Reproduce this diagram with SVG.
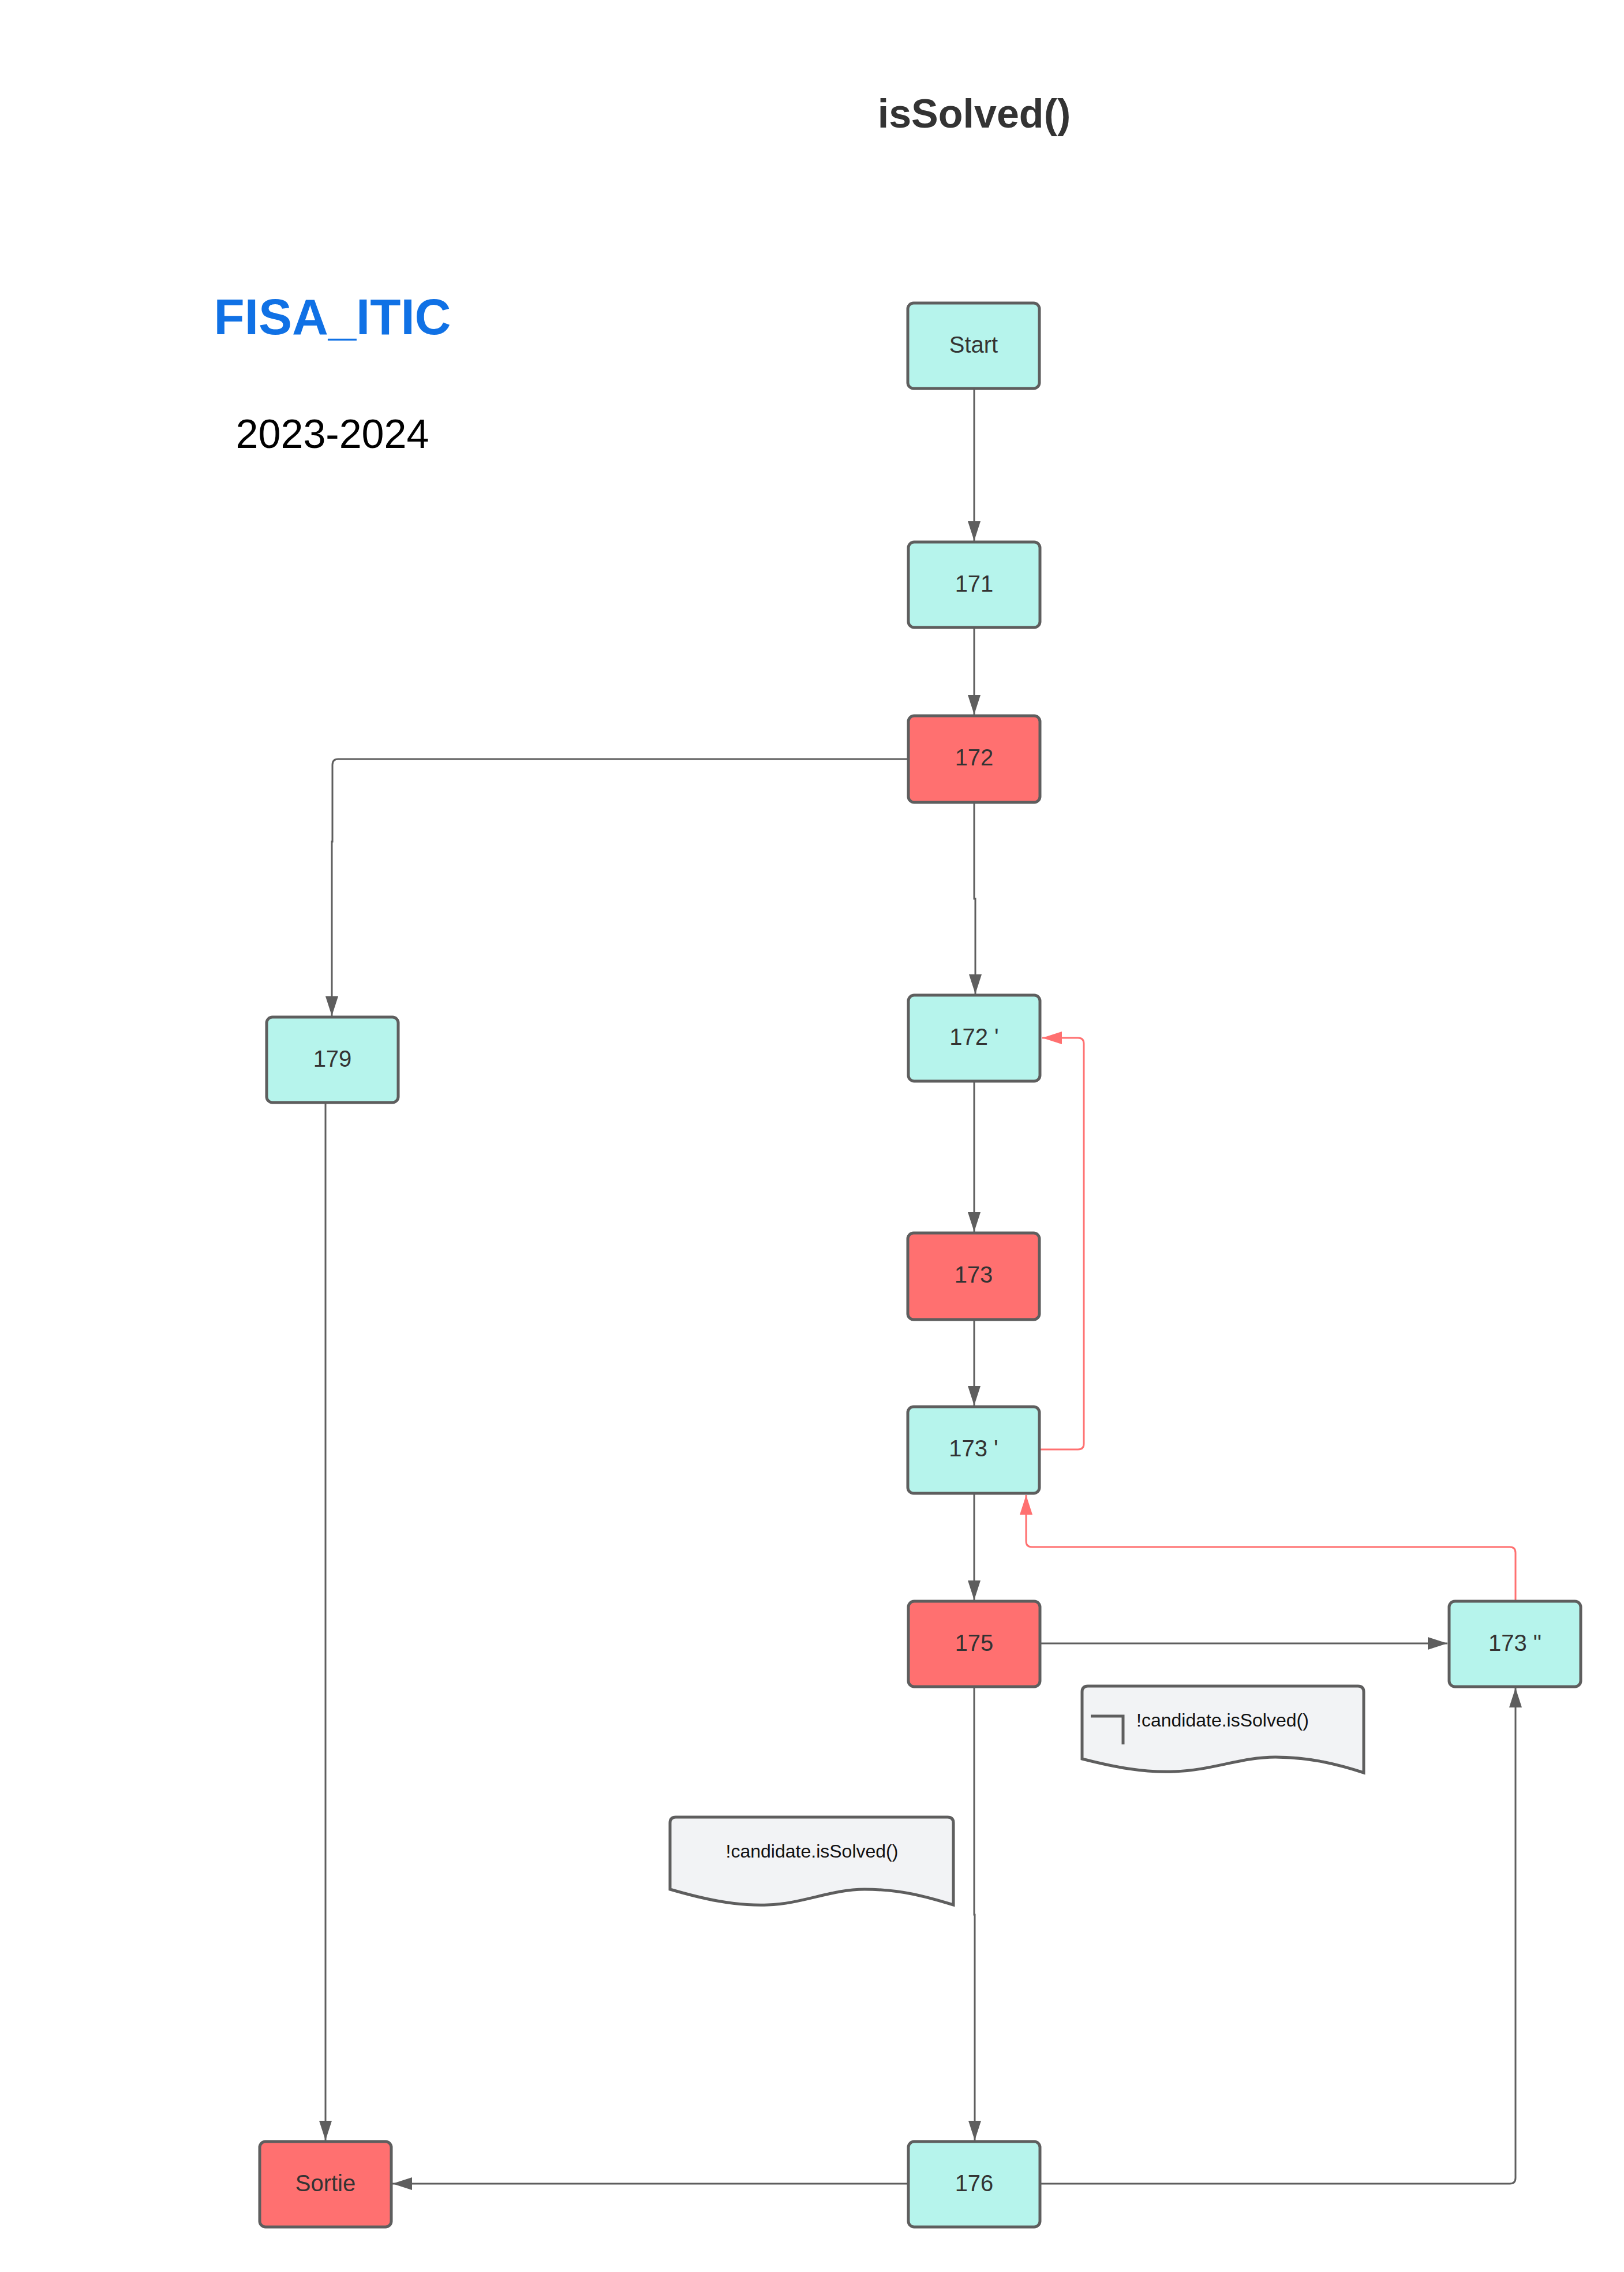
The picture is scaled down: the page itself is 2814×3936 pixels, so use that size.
<svg xmlns="http://www.w3.org/2000/svg" width="2814" height="3936" viewBox="0 0 2814 3936">
<style>
.node rect{stroke:#5e5e5e;stroke-width:5}
.cy{fill:#b6f4ec}
.rd{fill:#ff7070}
.lbl{font-family:"Liberation Sans",Arial,sans-serif;font-size:40px;fill:#333;text-anchor:middle}
.conn path{fill:none;stroke:#5e5e5e;stroke-width:3}
.conn path.red{stroke:#ff7070}
.doc path.shape{fill:#f2f3f5;stroke:#5e5e5e;stroke-width:5}
.doctxt{font-family:"Liberation Sans",Arial,sans-serif;font-size:32px;fill:#111}
</style>
<defs>
<marker id="ag" markerWidth="34" markerHeight="22" refX="34" refY="11" orient="auto" markerUnits="userSpaceOnUse"><path d="M0,0 L34,11 L0,22 z" fill="#5e5e5e"/></marker>
<marker id="ar" markerWidth="34" markerHeight="22" refX="34" refY="11" orient="auto" markerUnits="userSpaceOnUse"><path d="M0,0 L34,11 L0,22 z" fill="#ff7070"/></marker>
</defs>
<rect x="0" y="0" width="2814" height="3936" fill="#ffffff"/>

<text x="1688" y="221" font-family="Liberation Sans, Arial, sans-serif" font-size="70" font-weight="bold" fill="#333" text-anchor="middle">isSolved()</text>
<text x="576" y="579" font-family="Liberation Sans, Arial, sans-serif" font-size="87" font-weight="bold" fill="#1071e5" text-anchor="middle">FISA_ITIC</text>
<text x="576" y="776" font-family="Liberation Sans, Arial, sans-serif" font-size="70" fill="#000" text-anchor="middle">2023-2024</text>

<g class="conn" id="connectors">
<path d="M1688,673 V937" marker-end="url(#ag)"/>
<path d="M1688,1087 V1238" marker-end="url(#ag)"/>
<path d="M1574,1315 H586 Q576,1315 576,1325 V1458 H575 V1760" marker-end="url(#ag)"/>
<path d="M1688,1392 V1557 H1690 V1722" marker-end="url(#ag)"/>
<path d="M1688,1873 V2134" marker-end="url(#ag)"/>
<path d="M1688,2286 V2435" marker-end="url(#ag)"/>
<path d="M1688,2588 V2772" marker-end="url(#ag)"/>
<path d="M1802,2847 H2508" marker-end="url(#ag)"/>
<path d="M1688,2922 V3317 H1689 V3708" marker-end="url(#ag)"/>
<path d="M1574,3783 H680" marker-end="url(#ag)"/>
<path d="M1802,3783 H2616 Q2626,3783 2626,3773 V2924" marker-end="url(#ag)"/>
<path d="M564,1910 V3708" marker-end="url(#ag)"/>
<path class="red" d="M1803,2511 H1868 Q1878,2511 1878,2501 V1808 Q1878,1798 1868,1798 H1806" marker-end="url(#ar)"/>
<path class="red" d="M2626,2774 V2690 Q2626,2680 2616,2680 H1788 Q1778,2680 1778,2670 V2590" marker-end="url(#ar)"/>
</g>

<g class="node" id="n-start"><rect class="cy" x="1573" y="525" width="228" height="148" rx="10"/><text class="lbl" x="1687" y="611">Start</text></g>
<g class="node" id="n-171"><rect class="cy" x="1574" y="939" width="228" height="148" rx="10"/><text class="lbl" x="1688" y="1025">171</text></g>
<g class="node" id="n-172"><rect class="rd" x="1574" y="1240" width="228" height="150" rx="10"/><text class="lbl" x="1688" y="1326">172</text></g>
<g class="node" id="n-179"><rect class="cy" x="462" y="1762" width="228" height="148" rx="10"/><text class="lbl" x="576" y="1848">179</text></g>
<g class="node" id="n-172p"><rect class="cy" x="1574" y="1724" width="228" height="149" rx="10"/><text class="lbl" x="1688" y="1810">172 '</text></g>
<g class="node" id="n-173"><rect class="rd" x="1573" y="2136" width="228" height="150" rx="10"/><text class="lbl" x="1687" y="2222">173</text></g>
<g class="node" id="n-173p"><rect class="cy" x="1573" y="2437" width="228" height="150" rx="10"/><text class="lbl" x="1687" y="2523">173 '</text></g>
<g class="node" id="n-175"><rect class="rd" x="1574" y="2774" width="228" height="148" rx="10"/><text class="lbl" x="1688" y="2860">175</text></g>
<g class="node" id="n-173pp"><rect class="cy" x="2511" y="2774" width="228" height="148" rx="10"/><text class="lbl" x="2625" y="2860">173 "</text></g>
<g class="node" id="n-sortie"><rect class="rd" x="450" y="3710" width="228" height="148" rx="10"/><text class="lbl" x="564" y="3796">Sortie</text></g>
<g class="node" id="n-176"><rect class="cy" x="1574" y="3710" width="228" height="148" rx="10"/><text class="lbl" x="1688" y="3796">176</text></g>

<g class="doc" id="doc-1">
<path class="shape" transform="translate(1875,2921)" d="M0,10 Q0,0 10,0 H478 Q488,0 488,10 V150 C445,136 395,123 335,123 C275,123 225,146 160,148 C105,150 55,140 0,126 Z"/>
<path d="M1890,2973 H1946 V3022" fill="none" stroke="#5e5e5e" stroke-width="5"/>
<text class="doctxt" x="1969" y="2991">!candidate.isSolved()</text>
</g>
<g class="doc" id="doc-2">
<path class="shape" transform="translate(1161,3148)" d="M0,10 Q0,0 10,0 H481 Q491,0 491,10 V152 C445,138 400,125 337,125 C280,125 230,150 169,152 C110,154 55,141 0,125 Z"/>
<text class="doctxt" x="1407" y="3218" text-anchor="middle">!candidate.isSolved()</text>
</g>
</svg>
